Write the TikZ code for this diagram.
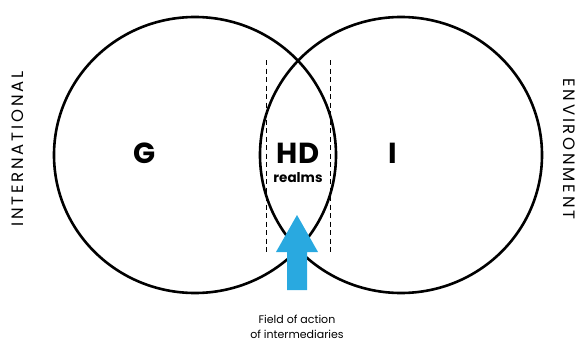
\documentclass[tikz,border=0pt]{standalone}
\usepackage{fontspec}
\setmainfont{Poppins}
\newfontfamily\spaced[LetterSpace=17]{Poppins}
\definecolor{arrowblue}{HTML}{29A9E0}
\begin{document}
\begin{tikzpicture}[x=1pt,y=-1pt,
  ring/.style={draw=black,line width=2.6pt},
  guide/.style={draw=black,line width=0.7pt,dash pattern=on 5pt off 3.5pt},
  bigletter/.style={font=\fontsize{29}{30}\selectfont\bfseries,inner sep=0pt},
  sidelabel/.style={font=\fontsize{16.5}{17}\selectfont\spaced,inner sep=0pt},
  caption/.style={font=\fontsize{11}{15.5}\selectfont,align=center,inner sep=0pt}]
\useasboundingbox (0,0) rectangle (581,343);
\path[ring] (195,155) ellipse [x radius=141, y radius=138];
\path[ring] (401,155) ellipse [x radius=141, y radius=138];
\coordinate (d1t) at (266,60); \coordinate (d1b) at (266,252);
\coordinate (d2t) at (330,60); \coordinate (d2b) at (330,252);
\draw[guide] (d1t) -- (d1b);
\draw[guide] (d2t) -- (d2b);
\fill[arrowblue] (287,290) -- (287,252) -- (276,252) -- (297,215) -- (318,252) -- (307,252) -- (307,290) -- cycle;
\node[bigletter] (g) at (145,153) {G};
\node[bigletter] (hd) at (298,153) {HD};
\node[bigletter] (i) at (393,153) {I};
\node[font=\fontsize{13.5}{14}\selectfont\bfseries,inner sep=0pt] (realms) at (298,178) {realms};
\node[sidelabel,rotate=90] (intl) at (18,149) {INTERNATIONAL};
\node[sidelabel,rotate=-90] (env) at (569,149) {ENVIRONMENT};
\node[caption] (cap) at (297,327) {Field of action\\of intermediaries};
\end{tikzpicture}
\end{document}
